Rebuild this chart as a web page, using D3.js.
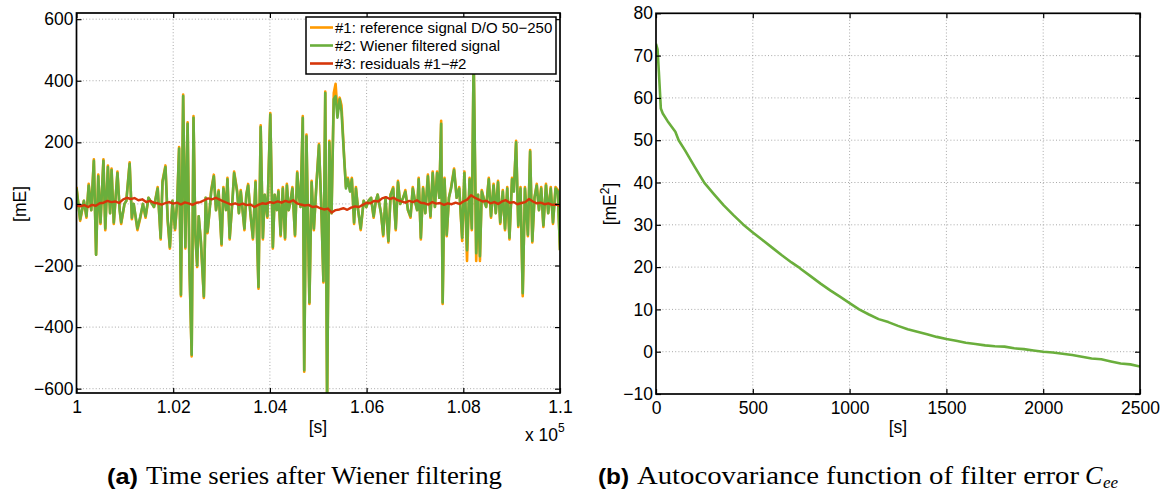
<!DOCTYPE html>
<html><head><meta charset="utf-8">
<script src="https://cdn.jsdelivr.net/npm/d3@7"></script>
<style>
body{margin:0;background:#fff;}
svg{display:block;}
</style></head><body>
<svg id="chart" width="1172" height="496" font-family="Liberation Sans, Arial, Helvetica, sans-serif"></svg>
<script>
// ---------- Panel (a): time series ----------
const tsOffset = 100000;
const tsTime = [0,76,153,206,252,305,359,405,450,496,557,595,649,695,725,771,847,893,924,992,
1031,1099,1145,1183,1260,1321,1374,1428,1489,1565,1603,1679,1741,1779,1840,1886,1931,1985,2038,2084,
2122,2160,2206,2252,2298,2336,2382,2420,2458,2496,2527,2573,2634,2672,2710,2748,2786,2840,2886,2939,
3000,3038,3092,3122,3168,3229,3260,3321,3359,3397,3473,3512,3550,3596,3649,3703,3764,3809,3855,3893,
3947,4008,4061,4099,4145,4176,4222,4267,4313,4351,4389,4428,4466,4519,4565,4603,4634,4680,4710,4756,
4817,4863,4909,4962,5015,5061,5107,5145,5183,5229,5275,5321,5359,5397,5443,5481,5535,5573,5611,5657,
5695,5741,5779,5825,5878,5939,5993,6038,6092,6145,6191,6229,6298,6344,6390,6451,6496,6550,6603,6649,
6695,6756,6802,6855,6909,6955,7000,7046,7077,7122,7168,7214,7268,7321,7367,7413,7458,7504,7542,7573,
7611,7657,7703,7748,7809,7863,7916,7977,8023,8077,8130,8176,8214,8267,8305,8344,8382,8435,8473,8527,
8573,8626,8672,8718,8764,8817,8863,8909,8955,9008,9046,9092,9137,9183,9229,9275,9336,9382,9427,9473,
9519,9565,9611,9656,9710,9756,9809,9855,9908,9954,10000];

const referenceSignal = [55,-55,10,-45,65,-20,145,-165,95,-65,
145,-85,125,-30,115,-65,105,-20,-65,0,
10,135,-50,0,-85,-45,0,-45,20,0,
-10,55,-115,75,125,-55,-145,10,-85,10,
185,-300,355,-145,265,-205,-495,285,-105,-205,
-40,-125,-305,20,-95,-30,45,95,-20,45,
-135,55,-20,85,-115,20,105,45,-30,45,
-85,30,65,-30,-115,75,-275,255,-115,30,
-45,295,-145,30,-20,45,-105,55,-115,65,
-20,10,55,-105,105,20,-10,285,-545,225,
-325,75,-85,65,195,0,-255,365,-650,205,
-30,360,390,300,345,320,155,55,85,45,
85,-65,55,-20,-85,10,-10,10,20,-45,
10,30,-30,-105,20,-125,30,55,-85,75,
0,20,45,-20,-45,55,10,-20,85,-115,
55,-30,95,-45,105,-10,105,20,270,-325,
85,-105,20,55,115,20,55,-120,105,-185,
85,-85,480,-185,30,-185,45,10,-10,85,
-45,65,-30,75,-65,45,-85,55,-115,85,
45,205,-75,55,-300,55,-105,175,-125,20,
65,-20,55,-75,65,-30,55,-65,55,45,
-150];

const wienerSignal = [50,-50,10,-40,60,-20,140,-165,90,-60,
140,-80,120,-30,110,-60,100,-20,-60,0,
10,130,-45,0,-80,-40,0,-40,20,0,
-10,50,-110,70,120,-50,-140,10,-80,10,
180,-295,350,-140,260,-200,-490,280,-100,-200,
-40,-120,-300,20,-90,-30,40,90,-20,40,
-130,50,-20,80,-110,20,100,40,-30,40,
-80,30,60,-30,-110,70,-270,250,-110,30,
-40,290,-140,30,-20,40,-100,50,-110,60,
-20,10,50,-100,100,20,-10,280,-540,220,
-320,70,-80,60,190,0,-250,360,-650,200,
-30,340,350,280,340,300,150,50,80,40,
80,-60,50,-20,-80,10,-10,10,20,-40,
10,30,-30,-100,20,-120,30,50,-80,70,
0,20,40,-20,-40,50,10,-20,80,-110,
50,-30,90,-40,100,-10,100,20,260,-320,
80,-100,20,50,110,20,50,-110,100,-150,
80,-80,480,-160,30,-170,40,10,-10,80,
-40,60,-30,70,-60,40,-80,50,-110,80,
40,200,-70,50,-290,50,-100,170,-120,20,
60,-20,50,-70,60,-30,50,-60,50,40,
-150];

const residualStep = 80;
const residuals = [-5,-8,-4,-10,-3,-6,2,4,10,6, 8,3,14,20,16,19,12,15,6,10,
4,2,-2,3,6,1,4,-2,5,2, -3,4,6,12,18,15,20,14,8,3,
-2,2,-3,1,-4,-2,-10,-3,2,0, 6,3,8,4,10,6,12,2,-2,-5,
-3,-10,-8,-14,-18,-15,-28,-20,-18,-14, -19,-12,-8,-10,-3,4,2,10,8,18,
22,16,20,12,8,4,10,6,12,4, 2,-2,6,1,3,-3,2,-1,4,0,
8,14,28,20,14,8,10,2,6,0, 8,12,4,6,-1,3,6,16,8,2,
4,-1,2,-3,-2,-6];

const tsXTicks = [100000,102000,104000,106000,108000,110000];
const tsXTickLabels = ["1","1.02","1.04","1.06","1.08","1.1"];
const tsYTicks = [-600,-400,-200,0,200,400,600];
const tsYTickLabels = ["\u2212600","\u2212400","\u2212200","0","200","400","600"];
const legendLabels = ["#1: reference signal D/O 50\u2212250","#2: Wiener filtered signal","#3: residuals #1\u2212#2"];
const seriesColors = ["#ff9a00","#6aae3c","#d6360a"];

// ---------- Panel (b): autocovariance ----------
const acvLag = [0,8,15,25,35,60,100,117,150,200,250,300,350,400,450,500,550,600,650,700,
736,750,800,850,900,950,1000,1049,1100,1150,1200,1250,1300,1350,1400,1450,1500,1550,1600,1650,
1700,1750,1800,1850,1900,1950,2000,2050,2100,2150,2200,2250,2300,2350,2400,2450,2500];
const acvValue = [72.8,71.5,66,57.5,56.3,54.5,52,50,47.6,43.7,39.9,37.2,34.6,32.3,30.1,28.2,26.4,24.6,22.8,21.1,
20,19.5,17.8,16.1,14.5,13,11.5,10,8.8,7.7,7.0,6.1,5.3,4.7,4.1,3.5,3.0,2.6,2.1,1.8,
1.5,1.3,1.2,0.8,0.6,0.3,0,-0.2,-0.5,-0.8,-1.2,-1.6,-1.8,-2.3,-2.8,-3.0,-3.5];
const acvXTicks = [0,500,1000,1500,2000,2500];
const acvXTickLabels = ["0","500","1000","1500","2000","2500"];
const acvYTicks = [-10,0,10,20,30,40,50,60,70,80];
const acvYTickLabels = ["\u221210","0","10","20","30","40","50","60","70","80"];

// ---------- drawing ----------
const svg = d3.select("#chart");
const TICK_FS = 17.5;
const SANS = "Liberation Sans, Arial, Helvetica, sans-serif";
const SERIF = "Liberation Serif, Times New Roman, serif";

function frame(g, x, y, xt, yt, id) {
  const [x0, x1] = x.range();
  const [y1, y0] = y.range();
  const grid = g.append("g").attr("class","grid");
  grid.selectAll("line.gx").data(xt.filter(v => x(v) > x0 + 1 && x(v) < x1 - 1)).join("line")
    .attr("x1", d => x(d)).attr("x2", d => x(d)).attr("y1", y0).attr("y2", y1)
    .attr("stroke", "#a8a8a8").attr("stroke-width", 1).attr("stroke-dasharray", "1,2.2");
  grid.selectAll("line.gy").data(yt.filter(v => y(v) > y0 + 1 && y(v) < y1 - 1)).join("line")
    .attr("y1", d => y(d)).attr("y2", d => y(d)).attr("x1", x0).attr("x2", x1)
    .attr("stroke", "#a8a8a8").attr("stroke-width", 1).attr("stroke-dasharray", "1,2.2");
  svg.append("clipPath").attr("id", id).append("rect")
    .attr("x", x0).attr("y", y0).attr("width", x1 - x0).attr("height", y1 - y0);
}

function axes(g, x, y, xt, xl, yt, yl) {
  const [x0, x1] = x.range();
  const [y1, y0] = y.range();
  const style = s => {
    s.attr("font-family", SANS).attr("font-size", TICK_FS);
    s.select(".domain").remove();
    s.selectAll(".tick line").attr("stroke", "#000").attr("stroke-width", 1.2);
    s.selectAll(".tick text").attr("fill", "#000");
  };
  g.append("g").attr("transform", `translate(0,${y1})`)
    .call(d3.axisBottom(x).tickValues(xt).tickSize(-5).tickPadding(8).tickFormat((d,i) => xl[i])).call(style);
  g.append("g").attr("transform", `translate(0,${y0})`)
    .call(d3.axisTop(x).tickValues(xt).tickSize(-5).tickFormat("")).call(style);
  g.append("g").attr("transform", `translate(${x0},0)`)
    .call(d3.axisLeft(y).tickValues(yt).tickSize(-5).tickPadding(3).tickFormat((d,i) => yl[i])).call(style);
  g.append("g").attr("transform", `translate(${x1},0)`)
    .call(d3.axisRight(y).tickValues(yt).tickSize(-5).tickFormat("")).call(style);
  g.append("rect").attr("x", x0).attr("y", y0).attr("width", x1 - x0).attr("height", y1 - y0)
    .attr("fill", "none").attr("stroke", "#000").attr("stroke-width", 1.7);
}

// Panel (a)
{
  const x = d3.scaleLinear().domain([100000, 110000]).range([76.5, 560]);
  const y = d3.scaleLinear().domain([-614, 620]).range([393, 13]);
  const g = svg.append("g");
  frame(g, x, y, tsXTicks, tsYTicks, "clipA");
  const line = d3.line().x(d => x(d[0])).y(d => y(d[1]));
  const plot = g.append("g").attr("clip-path", "url(#clipA)");
  const refData = tsTime.map((t, i) => [tsOffset + t, referenceSignal[i]]);
  const wienData = tsTime.map((t, i) => [tsOffset + t, wienerSignal[i]]);
  const resData = residuals.map((v, i) => [tsOffset + i * residualStep, v]);
  [refData, wienData, resData].forEach((d, i) => {
    plot.append("path").datum(d).attr("d", line).attr("fill", "none")
      .attr("stroke", seriesColors[i]).attr("stroke-width", i === 2 ? 2.4 : 2.6)
      .attr("stroke-linejoin", "round");
  });
  axes(g, x, y, tsXTicks, tsXTickLabels, tsYTicks, tsYTickLabels);

  const lg = g.append("g");
  lg.append("rect").attr("x", 306).attr("y", 17).attr("width", 250).attr("height", 57)
    .attr("fill", "#fff").attr("stroke", "#000").attr("stroke-width", 1.5);
  legendLabels.forEach((lab, i) => {
    const cy = 27.5 + i * 18;
    lg.append("line").attr("x1", 310).attr("x2", 333).attr("y1", cy).attr("y2", cy)
      .attr("stroke", seriesColors[i]).attr("stroke-width", 2.6);
    lg.append("text").attr("x", 335).attr("y", cy + 5.5).attr("font-size", 15).text(lab);
  });

  g.append("text").attr("x", 318).attr("y", 433).attr("text-anchor", "middle").attr("font-size", TICK_FS).text("[s]");
  g.append("text").attr("transform", "translate(26,204) rotate(-90)").attr("text-anchor", "middle").attr("font-size", TICK_FS).text("[mE]");
  const ex = g.append("text").attr("x", 525).attr("y", 441).attr("font-size", TICK_FS);
  ex.append("tspan").text("x 10");
  ex.append("tspan").attr("dy", -9).attr("font-size", 12).text("5");
}

// Panel (b)
{
  const x = d3.scaleLinear().domain([0, 2500]).range([656, 1140]);
  const y = d3.scaleLinear().domain([-10, 80]).range([394, 13.3]);
  const g = svg.append("g");
  frame(g, x, y, acvXTicks, acvYTicks, "clipB");
  const line = d3.line().x(d => x(d[0])).y(d => y(d[1]));
  g.append("g").attr("clip-path", "url(#clipB)").append("path")
    .datum(acvLag.map((t, i) => [t, acvValue[i]]))
    .attr("d", line).attr("fill", "none").attr("stroke", seriesColors[1]).attr("stroke-width", 2.6)
    .attr("stroke-linejoin", "round");
  axes(g, x, y, acvXTicks, acvXTickLabels, acvYTicks, acvYTickLabels);
  g.append("text").attr("x", 898).attr("y", 433).attr("text-anchor", "middle").attr("font-size", TICK_FS).text("[s]");
  const yl = g.append("text").attr("transform", "translate(616,204) rotate(-90)").attr("text-anchor", "middle").attr("font-size", TICK_FS);
  yl.append("tspan").text("[mE");
  yl.append("tspan").attr("dy", -7).attr("font-size", 12).text("2");
  yl.append("tspan").attr("dy", 7).text("]");
}

// captions
{
  const bold = t => svg.append("text").attr("y", 484).attr("font-weight", "bold").attr("font-size", 22)
    .attr("font-family", SANS).text(t);
  bold("(a)").attr("x", 107).attr("textLength", 31).attr("lengthAdjust", "spacingAndGlyphs");
  svg.append("text").attr("x", 146).attr("y", 484).attr("font-family", SERIF).attr("font-size", 26)
    .attr("textLength", 356).attr("lengthAdjust", "spacingAndGlyphs").text("Time series after Wiener filtering");
  bold("(b)").attr("x", 598).attr("textLength", 31).attr("lengthAdjust", "spacingAndGlyphs");
  svg.append("text").attr("x", 637).attr("y", 484).attr("font-family", SERIF).attr("font-size", 26)
    .attr("textLength", 442).attr("lengthAdjust", "spacingAndGlyphs").text("Autocovariance function of filter error");
  svg.append("text").attr("x", 1085).attr("y", 484).attr("font-family", SERIF).attr("font-style", "italic").attr("font-size", 26).text("C");
  svg.append("text").attr("x", 1103).attr("y", 488).attr("font-family", SERIF).attr("font-style", "italic").attr("font-size", 17).text("ee");
}
</script>
</body></html>
